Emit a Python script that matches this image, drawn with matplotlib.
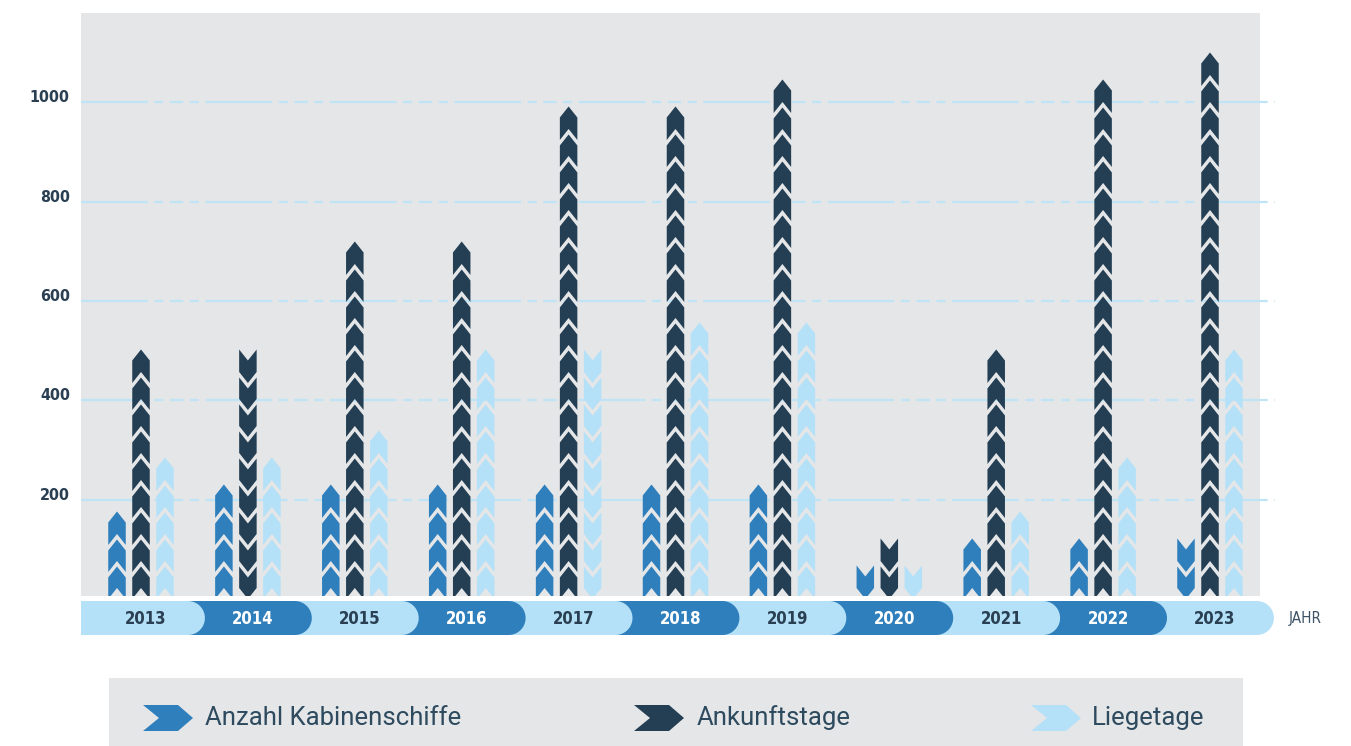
import matplotlib
matplotlib.use("Agg")
import matplotlib.pyplot as plt
from matplotlib.patches import Polygon
from matplotlib import font_manager
from matplotlib.font_manager import FontProperties
from matplotlib.transforms import ScaledTranslation
import numpy as np

# ---------------- data ----------------
years = ["2013", "2014", "2015", "2016", "2017", "2018", "2019", "2020", "2021", "2022", "2023"]
kabinenschiffe = [180, 230, 230, 230, 230, 230, 230, 72, 125, 125, 120]
ankunftstage = [500, 495, 720, 720, 990, 990, 1045, 125, 500, 1045, 1100]
liegetage = [280, 285, 340, 500, 495, 560, 560, 72, 180, 285, 500]
series_names = ["Anzahl Kabinenschiffe", "Ankunftstage", "Liegetage"]
y_ticks = [200, 400, 600, 800, 1000]
x_label = "JAHR"

# ---------------- style ----------------
C_BLUE = "#2f7fbc"
C_DARK = "#243f54"
C_LIGHT = "#b4e1f7"
C_BG = "#e5e6e8"
C_GRID = "#bfe4f6"
C_TEXT = "#2a3f52"

# condensed bold font if available
def cond_props(weight, size):
    for fam in ["Liberation Sans Narrow", "DejaVu Sans"]:
        fp = FontProperties(family=fam, weight=weight, stretch="condensed", size=size)
        try:
            path = font_manager.findfont(fp, fallback_to_default=False)
        except Exception:
            continue
        if "Narrow" in path or "Condensed" in path:
            return FontProperties(fname=path, size=size)
    return FontProperties(family="Roboto", weight=weight, size=size)

W, H = 1351, 746
fig = plt.figure(figsize=(W / 100, H / 100), dpi=100)
fig.patch.set_facecolor("white")

AX_L, AX_R, AX_T, AX_B = 81, 1260, 13, 596
PX_PER_GROUP = 106.9
PX_PER_UNIT = 0.4965
G0 = 141
xlim = (-(G0 - AX_L) / PX_PER_GROUP, (AX_R - G0) / PX_PER_GROUP)
ylim = (6, 6 + (AX_B - AX_T) / PX_PER_UNIT)

ax = fig.add_axes([AX_L / W, (H - AX_B) / H, (AX_R - AX_L) / W, (AX_B - AX_T) / H])
ax.set_facecolor(C_BG)
for s in ax.spines.values():
    s.set_visible(False)
ax.set_xlim(*xlim)
ax.set_ylim(*ylim)
ax.set_xticks([])

grid_right = (1275 - G0) / PX_PER_GROUP
ax.hlines(y_ticks, xlim[0], grid_right, colors=C_GRID, linewidth=1.6,
          linestyles=[(0, (30, 3, 4, 3, 6, 3, 4, 3))], zorder=1, clip_on=False)

ax.set_yticks(y_ticks)
ax.set_yticklabels([str(v) for v in y_ticks], fontproperties=cond_props("bold", 11.5),
                   color=C_TEXT)
ax.tick_params(axis="y", length=0, pad=8)
for lbl in ax.get_yticklabels():
    lbl.set_transform(lbl.get_transform() + ScaledTranslation(0, 0.06, fig.dpi_scale_trans))

UNIT = 27 / PX_PER_UNIT
TIP = 11 / PX_PER_UNIT
GAP = 5.5 / PX_PER_UNIT
HW = 8.75 / PX_PER_GROUP
OFFS = [-24 / PX_PER_GROUP, 0.0, 24 / PX_PER_GROUP]
series = [kabinenschiffe, ankunftstage, liegetage]
colors = [C_BLUE, C_DARK, C_LIGHT]

for s_idx, vals in enumerate(series):
    for i, v in enumerate(vals):
        up = True if i == 0 else v >= vals[i - 1]
        n = max(1, int(round(v / UNIT)))
        cx = i + OFFS[s_idx]
        for k in range(n):
            y0 = k * UNIT
            top = y0 + UNIT - GAP
            if k == n - 1:
                top = y0 + UNIT - 4.5 / PX_PER_UNIT
            if up:
                pts = [(cx - HW, y0), (cx, y0 + TIP), (cx + HW, y0),
                       (cx + HW, top), (cx, top + TIP), (cx - HW, top)]
            else:
                pts = [(cx - HW, y0 + TIP), (cx, y0), (cx + HW, y0 + TIP),
                       (cx + HW, top + TIP), (cx, top), (cx - HW, top + TIP)]
            ax.add_patch(Polygon(pts, closed=True, facecolor=colors[s_idx],
                                 edgecolor="none", zorder=3))

# year pill bar
P_T, P_B = 601, 635
pax = fig.add_axes([AX_L / W, (H - P_B) / H, (AX_R - AX_L) / W, (P_B - P_T) / H])
pax.set_xlim(*xlim)
pax.set_ylim(0, 1)
pax.axis("off")
rx = 17 / PX_PER_GROUP
t = np.linspace(-np.pi / 2, np.pi / 2, 40)
year_fp = cond_props("bold", 12)
for i in reversed(range(len(years))):
    left = xlim[0] + i
    right = left + 1
    cap = [(right + rx * np.cos(a), 0.5 + 0.5 * np.sin(a)) for a in t]
    pts = [(left, 0)] + cap + [(left, 1)]
    fc = C_LIGHT if i % 2 == 0 else C_BLUE
    tc = C_TEXT if i % 2 == 0 else "white"
    pax.add_patch(Polygon(pts, closed=True, facecolor=fc, edgecolor="none",
                          clip_on=False, zorder=10 + (len(years) - i)))
    pax.text(i + 5 / PX_PER_GROUP, 0.47, years[i], ha="center", va="center",
             fontproperties=year_fp, color=tc, zorder=40)

fig.text(1289 / W, 1 - 619 / H, x_label, ha="left", va="center",
         fontproperties=cond_props("normal", 11), color="#3d5468")

# legend box
LB_L, LB_R, LB_T = 109, 1243, 678
lax = fig.add_axes([LB_L / W, 0, (LB_R - LB_L) / W, (H - LB_T) / H])
lax.set_xlim(LB_L, LB_R)
lax.set_ylim(H, LB_T)
lax.set_facecolor(C_BG)
lax.set_xticks([]); lax.set_yticks([])
for s in lax.spines.values():
    s.set_visible(False)
icon_x = [143, 634, 1031]
text_x = [205, 697, 1092]
yc = 718
for x0, tx, name, c in zip(icon_x, text_x, series_names, colors):
    pts = [(x0, yc - 13), (x0 + 35, yc - 13), (x0 + 50, yc), (x0 + 35, yc + 13),
           (x0, yc + 13), (x0 + 16, yc)]
    lax.add_patch(Polygon(pts, closed=True, facecolor=c, edgecolor="none"))
    lax.text(tx, yc, name, ha="left", va="center", fontfamily="Roboto",
             fontsize=18.5, color="#2d4a5e")

fig.savefig("out.png", dpi=100)
